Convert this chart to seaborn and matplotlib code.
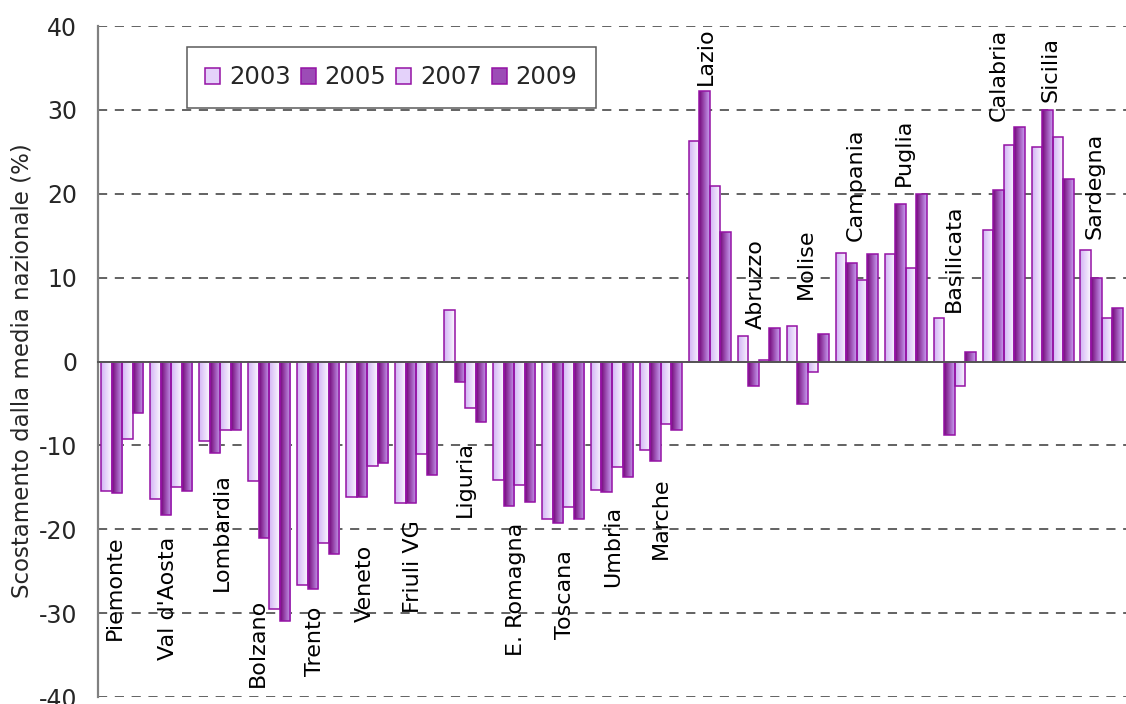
import numpy as np
import pandas as pd
import seaborn as sns
import matplotlib.pyplot as plt
from matplotlib.colors import LinearSegmentedColormap
from matplotlib.patches import Patch

regions = ["Piemonte", "Val d'Aosta", "Lombardia", "Bolzano", "Trento", "Veneto",
           "Friuli VG", "Liguria", "E. Romagna", "Toscana", "Umbria", "Marche",
           "Lazio", "Abruzzo", "Molise", "Campania", "Puglia", "Basilicata",
           "Calabria", "Sicilia", "Sardegna"]
years = ["2003", "2005", "2007", "2009"]
v2003 = [-15.4, -16.4, -9.5, -14.3, -26.7, -16.1, -16.9, 6.1, -14.1, -18.8, -15.3,
         -10.5, 26.3, 3.1, 4.3, 13.0, 12.8, 5.2, 15.7, 25.6, 13.3]
v2005 = [-15.7, -18.3, -10.9, -21.0, -27.1, -16.2, -16.9, -2.4, -17.2, -19.3, -15.5,
         -11.9, 32.3, -2.9, -5.0, 11.8, 18.8, -8.8, 20.4, 30.0, 10.0]
v2007 = [-9.2, -14.9, -8.1, -29.5, -21.6, -12.4, -11.0, -5.5, -14.7, -17.4, -12.6,
         -7.4, 20.9, 0.2, -1.2, 9.7, 11.1, -2.9, 25.8, 26.8, 5.2]
v2009 = [-6.1, -15.4, -8.1, -30.9, -22.9, -12.1, -13.5, -7.2, -16.7, -18.8, -13.8,
         -8.1, 15.4, 4.0, 3.3, 12.8, 20.0, 1.2, 28.0, 21.8, 6.4]

# where the region names sit (data coords, centre of the rotated text)
label_x = [-0.16, 0.94, 2.03, 2.76, 3.94, 4.95, 5.93, 7.0, 8.04, 9.05, 10.03, 10.99,
           11.92, 12.93, 13.97, 14.98, 15.97, 16.99, 17.91, 18.96, 19.85]
label_y = [-27.0, -28.2, -20.3, -33.6, -33.3, -26.4, -24.5, -14.0, -27.2, -27.8, -22.0,
           -18.7, 36.4, 9.2, 11.7, 21.1, 24.9, 12.3, 34.2, 34.8, 20.9]

df = pd.DataFrame({"regione": regions * 4,
                   "anno": np.repeat(years, len(regions)),
                   "valore": v2003 + v2005 + v2007 + v2009})

sns.set_style("white")
plt.rcParams['font.family'] = ['DejaVu Sans']
plt.rcParams['axes.unicode_minus'] = False

light_cmap = LinearSegmentedColormap.from_list("light", ["#d2b4f5", "#fcf9ff"])
dark_cmap = LinearSegmentedColormap.from_list("dark", ["#74087a", "#c99ff2"])
edge = "#9412a4"

fig = plt.figure(figsize=(11.26, 7.04), dpi=100)
ax = fig.add_axes([0.087, 0.0099, 0.913, 0.953])

sns.barplot(data=df, x="regione", y="valore", hue="anno", width=0.86,
            palette=["#e4d2fa", "#9c4cb6", "#e4d2fa", "#9c4cb6"],
            edgecolor=edge, linewidth=1.1, legend=False, ax=ax)

# gradient fill, clipped to each bar
grad = np.linspace(0, 1, 64).reshape(1, -1)
for i, cont in enumerate(ax.containers):
    cmap = light_cmap if i % 2 == 0 else dark_cmap
    for p in cont.patches:
        x, y = p.get_x(), p.get_y()
        w, h = p.get_width(), p.get_height()
        im = ax.imshow(grad, cmap=cmap, aspect="auto", zorder=2.5,
                       extent=[x, x + w, min(y, y + h), max(y, y + h)])
        im.set_clip_path(p)
        p.set_facecolor("none")
        p.set_zorder(3)

ax.set_ylim(-40, 40)
ax.set_xlim(-0.5, 20.33)

for name, lx, ly in zip(regions, label_x, label_y):
    ax.text(lx, ly, name, rotation=90, ha="center", va="center",
            fontsize=16, color="black", zorder=5)

ax.set_yticks(np.arange(-40, 41, 10))
ax.yaxis.grid(True, linestyle=(0, (6, 5)), color="#383838", linewidth=1.1)
ax.set_axisbelow(True)
ax.tick_params(axis="y", labelsize=17, length=6, color="#777777", width=1.2, pad=9)

ax.set_xticks(np.arange(-0.5, 21, 1))
ax.set_xticklabels([])
ax.tick_params(axis="x", length=5, color="#777777", width=1.2, direction="out")
ax.set_xlabel("")

ax.spines["top"].set_visible(False)
ax.spines["right"].set_visible(False)
ax.spines["bottom"].set_position(("data", 0))
ax.spines["bottom"].set_color("#555555")
ax.spines["bottom"].set_linewidth(1.4)
ax.spines["bottom"].set_zorder(4)
ax.spines["left"].set_color("#808080")
ax.spines["left"].set_linewidth(1.6)

ax.set_ylabel("Scostamento dalla media nazionale (%)", fontsize=16.5)
ax.yaxis.set_label_coords(-0.063, 0.487)

handles = [Patch(facecolor=c, edgecolor=edge, linewidth=1.1)
           for c in ["#e4d2fa", "#9c4cb6", "#e4d2fa", "#9c4cb6"]]
leg = ax.legend(handles, years, loc="upper left", bbox_to_anchor=(0.0866, 0.9687),
                ncol=4, fontsize=17.5, frameon=True, fancybox=False,
                handlelength=0.62, handleheight=0.62, handletextpad=0.35,
                columnspacing=0.42, borderpad=0.75, borderaxespad=0)
leg.get_frame().set_edgecolor("#333333")
leg.get_frame().set_linewidth(1.1)

fig.savefig("out.png", dpi=100)
